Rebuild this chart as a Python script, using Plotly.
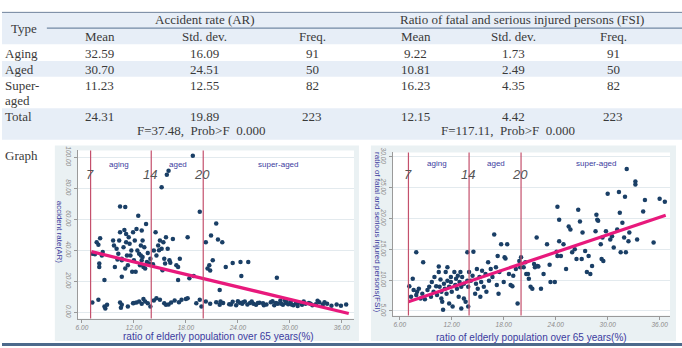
import plotly.graph_objects as go

W, H = 682, 348

# ---------------- table data ----------------
types = ["Aging", "Aged", "Super-\naged", "Total"]
ar_mean = ["32.59", "30.70", "11.23", "24.31"]
ar_sd = ["16.09", "24.51", "12.55", "19.89"]
ar_freq = ["91", "50", "82", "223"]
fsi_mean = ["9.22", "10.81", "16.23", "12.15"]
fsi_sd = ["1.73", "2.49", "4.35", "4.42"]
fsi_freq = ["91", "50", "82", "223"]
ar_ftest = "F=37.48,  Prob>F  0.000"
fsi_ftest = "F=117.11,  Prob>F  0.000"

# ---------------- scatter data ----------------
ar_pts = [
    (7.2,37.8),(7.5,37.4),(7.7,45.2),(7.9,43.5),(8.1,47.8),(8.0,31.4),(8.0,29.3),(8.3,36.7),(8.6,20.8),(9.6,46.3),
    (9.7,43.1),(9.8,29.3),(10.0,41.0),(10.2,37.8),(10.4,51.6),(10.4,68.2),(10.6,22.9),(10.6,34.6),(10.8,42.0),(10.9,53.1),
    (11.0,67.9),(11.1,50.5),(11.2,36.7),(11.3,30.4),(11.5,44.2),(11.7,39.9),(11.8,26.1),(12.0,33.5),(12.1,46.3),(12.3,53.7),
    (12.5,62.2),(12.6,37.8),(12.7,30.4),(12.8,43.1),(12.9,52.7),(13.0,35.7),(13.1,29.3),(13.2,42.0),(13.4,56.9),(13.5,32.5),
    (13.6,38.2),(13.8,31.4),(13.9,34.6),(8.4,38.9),(10.1,34.0),(11.0,28.2),(11.4,48.4),(11.9,51.6),(12.2,26.1),(12.4,39.9),
    (12.8,36.7),(13.0,46.3),(13.3,28.2),(10.6,33.5),(10.3,46.3),(11.6,36.7),(11.1,45.2),(12.9,33.5),
    (7.2,6.4),(7.9,8.1),(8.6,3.8),(8.9,4.9),(10.4,6.4),(10.6,4.9),(11.3,3.8),(11.9,5.9),(12.3,6.4),(12.6,7.0),
    (13.1,8.5),(13.3,7.0),(13.6,5.9),(13.9,3.8),(8.7,2.5),(10.5,3.0),(12.0,6.0),(12.9,5.5),
    (14.3,39.9),(14.5,51.6),(14.6,36.7),(14.8,43.1),(15.0,46.3),(15.2,80.7),(15.2,41.0),(15.3,27.2),(15.4,45.2),(15.5,34.6),
    (15.7,48.4),(15.8,88.7),(16.0,91.3),(15.9,41.0),(16.1,33.5),(16.5,47.3),(16.9,30.4),(17.1,20.8),(17.3,34.6),(17.1,29.3),
    (18.2,48.4),(18.4,21.9),(18.8,101.0),(18.9,23.4),(19.6,64.8),(14.2,31.0),(14.9,40.0),(15.6,31.5),(16.2,32.0),
    (14.3,7.6),(14.6,9.1),(15.0,8.1),(15.5,5.9),(15.7,4.9),(16.3,6.4),(16.7,7.6),(17.5,8.1),(18.0,8.5),(18.2,9.1),
    (19.2,5.9),(19.6,8.1),(19.8,3.8),(16.0,5.0),(17.2,6.5),
    (20.3,45.2),(20.5,28.2),(20.7,30.4),(20.9,49.5),(21.1,33.5),(21.5,57.3),(21.7,46.9),(21.9,14.4),(22.2,45.2),(22.6,29.3),
    (23.4,31.8),(24.3,32.5),(24.4,23.4),(25.2,32.5),(28.5,22.3),(20.8,27.0),
    (20.3,7.0),(20.8,5.5),(21.5,6.5),(21.9,4.8),(22.3,6.0),(23.0,5.2),(23.4,6.8),(23.8,4.5),(24.2,6.2),(24.5,5.5),
    (24.8,7.0),(25.1,5.0),(25.4,6.0),(25.8,5.5),(26.1,4.8),(26.5,6.2),(26.9,5.8),(27.3,5.0),(27.8,6.5),(28.2,4.5),
    (28.6,5.5),(28.9,7.5),(29.2,4.8),(29.5,6.0),(29.8,5.2),(30.1,6.8),(30.4,4.5),(30.7,5.8),(31.0,6.2),(31.4,4.8),
    (31.8,5.5),(32.2,6.0),(32.6,4.5),(33.0,5.2),(33.4,6.5),(33.8,4.8),(34.3,5.5),(34.8,4.2),(35.4,5.0),(35.9,4.2),
    (36.5,5.0),(22.0,7.0),(23.2,5.0),(24.0,7.2),(24.6,6.5),(25.6,7.0),(26.3,6.0),(27.0,4.5),(28.0,7.2),(29.0,5.5),
    (29.6,7.0),(30.2,5.0),(30.9,4.0),(31.6,7.0),(32.4,5.5),(33.2,7.5),(29.4,8.0),(34.0,6.5),(28.4,6.0),
]
ar_x = [p[0] for p in ar_pts]
ar_y = [p[1] for p in ar_pts]

fsi_pts = [
    (7.1,9.0),(7.3,7.3),(7.5,10.2),(7.6,8.4),(7.9,14.5),(7.9,7.6),(8.0,8.1),(8.2,8.6),(8.4,7.0),(8.6,7.8),
    (8.7,12.9),(8.9,6.9),(9.2,8.4),(9.4,8.9),(9.6,7.3),(9.7,9.7),(9.9,8.1),(10.0,10.5),(10.2,9.0),(10.3,7.6),
    (10.5,12.2),(10.5,11.3),(10.6,8.9),(10.7,10.1),(10.8,7.0),(10.8,8.1),(10.9,6.5),(11.0,5.2),(11.1,9.4),(11.2,8.6),
    (11.3,11.3),(11.4,7.8),(11.5,12.1),(11.5,9.9),(11.7,8.9),(11.7,6.2),(11.9,10.5),(11.9,9.7),(12.0,8.1),(12.1,5.7),
    (12.3,11.3),(12.4,9.2),(12.5,10.2),(12.6,8.6),(12.7,10.7),(12.8,7.3),(12.9,9.7),(13.0,11.3),(13.1,5.4),(13.1,8.9),
    (13.2,10.5),(13.4,7.0),(13.4,9.4),(13.6,6.5),(13.8,9.9),(13.9,5.7),(13.8,14.5),(14.0,11.3),(13.9,8.9),
    (14.5,14.6),(14.2,9.9),(14.4,10.7),(14.7,7.8),(14.8,9.4),(14.9,11.8),(15.0,8.6),(15.2,10.5),(15.3,7.3),(15.4,9.7),
    (15.5,11.5),(15.7,8.9),(15.9,11.0),(16.0,8.1),(16.2,12.9),(16.3,9.9),(16.5,11.8),(16.7,10.5),(16.9,17.4),(17.1,12.1),
    (17.2,9.2),(17.3,13.9),(17.4,7.8),(17.5,11.3),(17.7,15.8),(18.0,9.7),(18.1,13.7),(18.2,13.5),(18.4,15.8),(18.6,11.0),
    (18.8,9.2),(19.0,9.0),(19.1,10.7),(19.4,11.8),(19.6,6.2),(19.8,13.1),(20.0,13.7),(19.9,12.1),
    (20.3,12.1),(20.5,12.9),(20.6,11.0),(20.8,11.0),(20.9,10.2),(21.1,8.9),(21.3,8.6),(21.5,12.6),(21.6,12.1),(21.8,16.9),
    (21.9,12.3),(22.0,12.2),(22.3,8.6),(22.6,11.0),(23.0,15.8),(23.3,12.5),(23.4,9.7),(23.9,9.7),(24.1,14.6),(24.2,21.9),
    (24.2,13.9),(24.4,19.8),(24.4,16.3),(24.6,13.9),(24.9,15.8),(25.2,11.8),(25.5,18.7),(25.7,18.2),(25.9,14.5),(26.2,15.0),
    (26.4,13.4),(26.6,21.4),(26.8,19.5),(27.0,13.4),(27.1,17.7),(27.4,14.7),(27.6,11.3),(27.8,13.9),(28.0,11.0),(28.2,12.3),
    (28.6,17.9),(28.7,20.6),(28.8,19.8),(28.9,19.6),(29.2,15.8),(29.3,13.4),(29.4,16.9),(29.5,13.1),(29.8,17.9),(30.0,24.0),
    (30.3,16.6),(30.5,17.1),(30.7,15.3),(31.1,18.2),(31.3,24.3),(31.4,20.9),(31.5,14.5),(31.7,19.3),(31.9,16.9),(32.0,23.5),
    (32.1,14.5),(32.2,28.0),(32.4,16.3),(32.5,17.7),(33.2,26.0),(33.2,25.5),(33.4,16.6),(34.1,21.1),(34.3,23.0),(35.3,16.1),
    (36.0,23.2),(36.6,22.7),
]
fsi_x = [p[0] for p in fsi_pts]
fsi_y = [p[1] for p in fsi_pts]

# fitted lines (end points)
ar_fit_x = [7.1, 36.8]
ar_fit_y = [39.1, -0.8]
fsi_fit_x = [7.0, 36.7]
fsi_fit_y = [6.5, 20.5]

stage_cut = [7, 14, 20]
stage_cut_labels = ["7", "14", "20"]
stage_names = ["aging", "aged", "super-aged"]
stage_name_x = [10.3, 17.1, 28.6]
x_ticks = [6, 12, 18, 24, 30, 36]
ar_ticks = [0, 20, 40, 60, 80, 100]
fsi_ticks = [5, 10, 15, 20, 25, 30]

# ---------------- helpers ----------------
def px(x):
    return x / W

def py(y):
    return 1 - y / H

TXT = "#3a3a3a"
SERIF = "Liberation Serif"
SANS = "Liberation Sans"
BAND = "#e7eef7"
GRAPHBG = "#eaf1f3"
NAVY = "#1a3f66"
PINK = "#e8197c"
VLINE = "#c4506c"
TITLEC = "#3c3ca0"
TS = 13

fig = go.Figure()
shapes = []
ann = []

def rect(x0, y0, x1, y1, color, layer="below"):
    shapes.append(dict(type="rect", xref="paper", yref="paper", x0=px(x0), x1=px(x1),
                       y0=py(y1), y1=py(y0), fillcolor=color, line=dict(width=0), layer=layer))

def hline(x0, x1, y, color, width):
    shapes.append(dict(type="line", xref="paper", yref="paper", x0=px(x0), x1=px(x1),
                       y0=py(y), y1=py(y), line=dict(color=color, width=width)))

def text(x, y, s, size=TS, color=TXT, family=SERIF, xanchor="center", **kw):
    ann.append(dict(xref="paper", yref="paper", x=px(x), y=py(y), text=s, showarrow=False,
                    xanchor=xanchor, yanchor="middle", font=dict(size=size, color=color, family=family), **kw))

# table bands
rect(0, 8, W, 40, BAND)
rect(0, 57, W, 73, BAND)
rect(0, 105, W, 137, BAND)
hline(0, W, 7.5, "#6d819c", 1)
hline(45, W, 23.5, "#55708f", 1)
hline(0, W, 345.5, "#4d6a8c", 3)

# header texts
text(22, 24, "Type")
text(204, 15, "Accident rate (AR)")
text(522, 15, "Ratio of fatal and serious injured persons (FSI)")
col_x = [98, 203, 311, 415, 513, 613]
for cx, h in zip(col_x, ["Mean", "Std. dev.", "Freq.", "Mean", "Std. dev.", "Freq."]):
    text(cx, 32.5, h)

row_y = [49, 65.5, 81.5, 113]
for i, ry in enumerate(row_y):
    if "\n" in types[i]:
        a, b = types[i].split("\n")
        text(1, ry, a, xanchor="left")
        text(1, ry + 15.5, b, xanchor="left")
    else:
        text(1, ry, types[i], xanchor="left")
    for cx, col in zip(col_x, [ar_mean, ar_sd, ar_freq, fsi_mean, fsi_sd, fsi_freq]):
        text(cx, ry, col[i])
text(200, 128, ar_ftest)
text(507, 128, fsi_ftest)
text(1, 153, "Graph", xanchor="left")

# graph panels
panels = [
    dict(box=(53, 143, 358, 342), plot=(76, 148, 353, 319), xr=(5.52, 37.4), yr=(-4.0, 104.4),
         xs=ar_x, ys=ar_y, fx=ar_fit_x, fy=ar_fit_y, ticks=ar_ticks, ytitle="accident rate(AR)",
         ytx=58, xtitle_y=337.5, xtitle_x=217, cut_y=(172, 162)),
    dict(box=(370, 143, 676, 342), plot=(392, 150, 670, 316), xr=(5.2, 37.2), yr=(4.25, 30.7),
         xs=fsi_x, ys=fsi_y, fx=fsi_fit_x, fy=fsi_fit_y, ticks=fsi_ticks,
         ytitle="ratio of fatal and serious injured persons(FSI)",
         ytx=377, xtitle_y=338, xtitle_x=531, cut_y=(172, 161)),
]

layout_axes = {}
for k, p in enumerate(panels):
    n = "" if k == 0 else str(k + 1)
    bx0, by0, bx1, by1 = p["box"]
    rect(bx0, by0, bx1, by1, GRAPHBG)
    lx0, ly0, lx1, ly1 = p["plot"]
    rect(lx0, ly0, lx1, ly1, "white")
    xa, ya = "x" + n, "y" + n
    fig.add_trace(go.Scatter(x=p["xs"], y=p["ys"], mode="markers", xaxis=xa, yaxis=ya,
                             marker=dict(size=4.5, color=NAVY), showlegend=False, cliponaxis=True))
    fig.add_trace(go.Scatter(x=p["fx"], y=p["fy"], mode="lines", xaxis=xa, yaxis=ya,
                             line=dict(color=PINK, width=3.2), showlegend=False))
    tick_font = dict(size=6.5, color="#8a8a8a", family=SANS, style="italic")
    layout_axes["xaxis" + n] = dict(domain=[px(lx0), px(lx1)], range=list(p["xr"]), anchor=ya,
                                    tickvals=x_ticks, ticktext=[f"{v:.2f}" for v in x_ticks],
                                    tickfont=tick_font, ticks="outside", ticklen=3, tickcolor="#9a9a9a",
                                    showline=True, linecolor="#9a9a9a", linewidth=1, showgrid=False,
                                    zeroline=False, fixedrange=True)
    layout_axes["yaxis" + n] = dict(domain=[py(ly1), py(ly0)], range=list(p["yr"]), anchor=xa,
                                    tickvals=p["ticks"], ticktext=[f"{v:.2f}" for v in p["ticks"]],
                                    tickangle=90, tickfont=tick_font, ticks="outside", ticklen=3,
                                    tickcolor="#9a9a9a", showline=True, linecolor="#9a9a9a", linewidth=1,
                                    showgrid=True, gridcolor="#e3eaee", gridwidth=1, zeroline=False,
                                    fixedrange=True)
    for c, lab in zip(stage_cut, stage_cut_labels):
        shapes.append(dict(type="line", xref=xa, yref="paper", x0=c, x1=c, y0=py(ly1), y1=py(ly0),
                           line=dict(color=VLINE, width=1.2), layer="above"))
        ann.append(dict(xref=xa, yref="paper", x=c - 0.1, y=py(p["cut_y"][0]), text=lab, showarrow=False,
                        xanchor="center", yanchor="middle",
                        font=dict(size=13, color="#555555", family=SANS, style="italic")))
    for sx, lab in zip(stage_name_x, stage_names):
        ann.append(dict(xref=xa, yref="paper", x=sx, y=py(p["cut_y"][1]), text=lab, showarrow=False,
                        xanchor="center", yanchor="middle", font=dict(size=8, color=TITLEC, family=SANS)))
    text(p["xtitle_x"], p["xtitle_y"], "ratio of elderly population over 65 years(%)", size=10,
         color=TITLEC, family=SANS)
    text(p["ytx"], (ly0 + ly1) / 2 - 2, p["ytitle"], size=8, color=TITLEC, family=SANS, textangle=90)

fig.update_layout(width=W, height=H, margin=dict(l=0, r=0, t=0, b=0), paper_bgcolor="white",
                  plot_bgcolor="white", shapes=shapes, annotations=ann, showlegend=False, **layout_axes)
fig.write_html("out.html")
